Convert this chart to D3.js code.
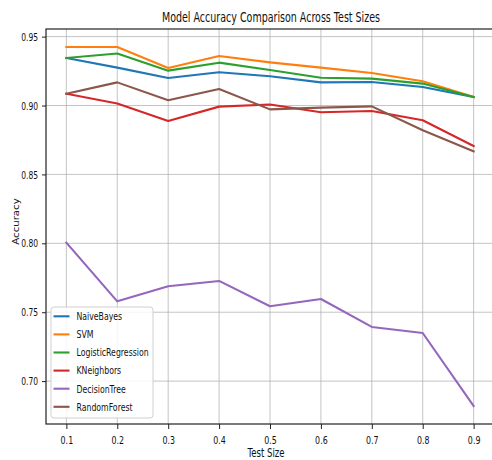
<!DOCTYPE html>
<html>
<head>
<meta charset="utf-8">
<script src="https://cdn.jsdelivr.net/npm/d3@7"></script>
<style>
  html, body { margin: 0; padding: 0; background: #fff; }
  svg { display: block; font-family: "DejaVu Sans", sans-serif; }
</style>
</head>
<body>
<svg id="chart" width="492" height="460"></svg>
<script>
const testSizes = [0.1, 0.2, 0.3, 0.4, 0.5, 0.6, 0.7, 0.8, 0.9];
const modelNames = ["NaiveBayes", "SVM", "LogisticRegression", "KNeighbors", "DecisionTree", "RandomForest"];
const naiveBayes = [0.9345, 0.9275, 0.9200, 0.9241, 0.9212, 0.9168, 0.9171, 0.9134, 0.9062];
const svm = [0.9425, 0.9425, 0.9272, 0.9359, 0.9313, 0.9275, 0.9236, 0.9176, 0.9062];
const logisticRegression = [0.9345, 0.9377, 0.9253, 0.9311, 0.9258, 0.9202, 0.9195, 0.9159, 0.9062];
const kNeighbors = [0.9086, 0.9014, 0.8888, 0.8992, 0.9007, 0.8951, 0.8960, 0.8893, 0.8706];
const decisionTree = [0.8005, 0.7579, 0.7688, 0.7727, 0.7543, 0.7596, 0.7393, 0.7349, 0.6819];
const randomForest = [0.9086, 0.9168, 0.9038, 0.9120, 0.8972, 0.8985, 0.8994, 0.8820, 0.8668];
const xTickValues = [0.1, 0.2, 0.3, 0.4, 0.5, 0.6, 0.7, 0.8, 0.9];
const yTickValues = [0.70, 0.75, 0.80, 0.85, 0.90, 0.95];
const colors = ["#1f77b4", "#ff7f0e", "#2ca02c", "#d62728", "#9467bd", "#8c564b"];

const seriesValues = [naiveBayes, svm, logisticRegression, kNeighbors, decisionTree, randomForest];
const series = modelNames.map((name, i) => ({
  name, color: colors[i],
  points: testSizes.map((t, j) => ({ x: t, y: seriesValues[i][j] }))
}));

const SX = 0.72; // horizontal squash of the glyphs
const svg = d3.select("#chart");
const pLeft = 46, pRight = 494, pTop = 29, pBottom = 424;

// matplotlib-like 5% margins
const xmin = d3.min(testSizes), xmax = d3.max(testSizes);
const xm = (xmax - xmin) * 0.05;
const allY = seriesValues.flat();
const ymin = d3.min(allY), ymax = d3.max(allY);
const ym = (ymax - ymin) * 0.05;

const x = d3.scaleLinear().domain([xmin - xm, xmax + xm]).range([pLeft, pRight]);
const y = d3.scaleLinear().domain([ymin - ym, ymax + ym]).range([pBottom, pTop]);

// grid
const grid = svg.append("g");
grid.selectAll(".gx").data(xTickValues).join("line")
  .attr("x1", d => x(d)).attr("x2", d => x(d))
  .attr("y1", pTop).attr("y2", pBottom)
  .attr("stroke", "#b0b0b0").attr("stroke-opacity", 0.75).attr("stroke-width", 1);
grid.selectAll(".gy").data(yTickValues).join("line")
  .attr("x1", pLeft).attr("x2", pRight)
  .attr("y1", d => y(d)).attr("y2", d => y(d))
  .attr("stroke", "#b0b0b0").attr("stroke-opacity", 0.75).attr("stroke-width", 1);

// lines
const line = d3.line().x(d => x(d.x)).y(d => y(d.y));
svg.append("g").selectAll("path").data(series).join("path")
  .attr("d", d => line(d.points))
  .attr("fill", "none")
  .attr("stroke", d => d.color)
  .attr("stroke-width", 2.1)
  .attr("stroke-linejoin", "round")
  .attr("stroke-linecap", "square");

// spines
svg.append("rect")
  .attr("x", pLeft).attr("y", pTop)
  .attr("width", pRight - pLeft).attr("height", pBottom - pTop)
  .attr("fill", "none").attr("stroke", "#222").attr("stroke-width", 1.2);

// axes
const xAxis = svg.append("g").attr("transform", `translate(0,${pBottom})`)
  .call(d3.axisBottom(x).tickValues(xTickValues).tickFormat(d3.format(".1f")).tickSize(5).tickSizeOuter(0));
xAxis.select(".domain").remove();
xAxis.selectAll(".tick line").attr("stroke", "#222").attr("stroke-width", 1);
xAxis.selectAll(".tick text")
  .attr("y", 20).attr("dy", null)
  .attr("transform", `scale(${SX},1)`)
  .attr("font-size", 11).attr("fill", "#111")
  .attr("font-family", "DejaVu Sans");

const yAxis = svg.append("g").attr("transform", `translate(${pLeft},0)`)
  .call(d3.axisLeft(y).tickValues(yTickValues).tickFormat(d3.format(".2f")).tickSize(4).tickSizeOuter(0));
yAxis.select(".domain").remove();
yAxis.selectAll(".tick line").attr("stroke", "#222").attr("stroke-width", 1);
yAxis.selectAll(".tick text")
  .attr("x", -8 / SX).attr("dy", "0.34em")
  .attr("transform", `scale(${SX},1)`)
  .attr("font-size", 10.5).attr("fill", "#111")
  .attr("font-family", "DejaVu Sans");

// title and axis labels
svg.append("text")
  .attr("transform", `translate(${(pLeft + 492) / 2 + 2},21.5) scale(${SX},1)`)
  .attr("text-anchor", "middle").attr("font-size", 13.2).attr("fill", "#111")
  .text("Model Accuracy Comparison Across Test Sizes");

svg.append("text")
  .attr("transform", `translate(266,456.5) scale(${SX},1)`)
  .attr("text-anchor", "middle").attr("font-size", 11.9).attr("fill", "#111")
  .text("Test Size");

svg.append("text")
  .attr("transform", `translate(18.5,221.5) scale(0.8,1) rotate(-90)`)
  .attr("text-anchor", "middle").attr("font-size", 10.2).attr("fill", "#111")
  .text("Accuracy");

// legend
const lg = svg.append("g").attr("transform", "translate(51,307)");
lg.append("rect")
  .attr("x", 0).attr("y", 0).attr("width", 102).attr("height", 111)
  .attr("rx", 3).attr("ry", 3)
  .attr("fill", "#fff").attr("fill-opacity", 0.85)
  .attr("stroke", "#d0d0d0").attr("stroke-width", 1);
const items = lg.selectAll(".item").data(series).join("g")
  .attr("transform", (d, i) => `translate(0,${9.3 + i * 18.1})`);
items.append("line")
  .attr("x1", 2.5).attr("x2", 18.5).attr("y1", 0).attr("y2", 0)
  .attr("stroke", d => d.color).attr("stroke-width", 2.1);
items.append("text")
  .attr("transform", `translate(25.5,0) scale(${SX},1)`)
  .attr("dy", "0.36em")
  .attr("font-size", 10.8).attr("fill", "#111")
  .text(d => d.name);
</script>
</body>
</html>
